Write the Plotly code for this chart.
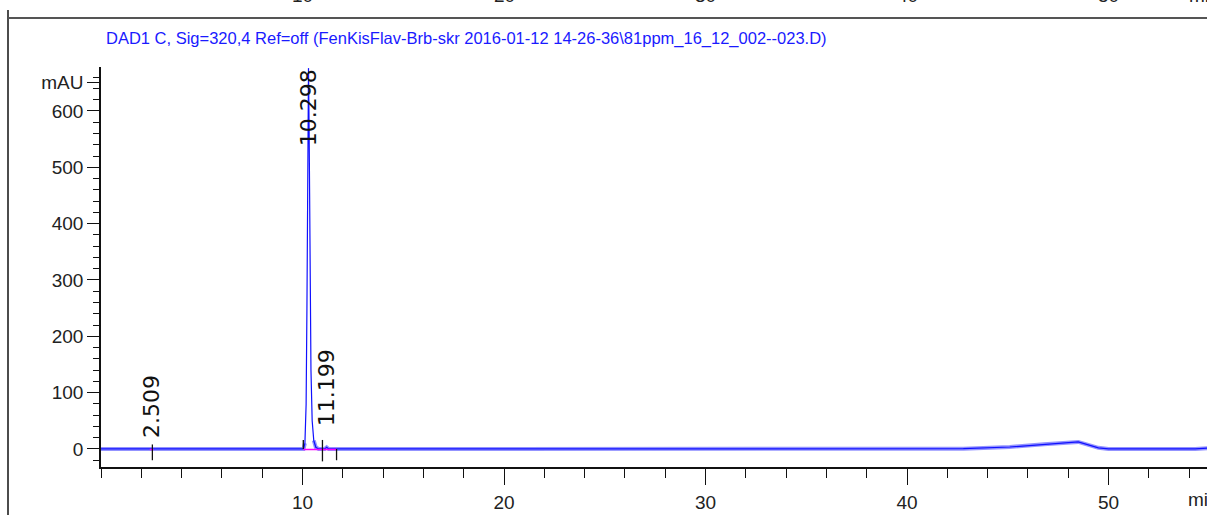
import plotly.graph_objects as go

# --- chromatogram points (time in min, signal in mAU) ---
time_min = [0.0, 2.40, 2.48, 2.53, 2.62, 10.05, 10.12, 10.18, 10.22, 10.26, 10.298,
            10.33, 10.37, 10.42, 10.48, 10.56, 10.66, 10.80, 11.10, 11.20, 11.30,
            42.8, 45.1, 46.8, 48.5, 49.5, 50.0, 54.3, 54.9]
signal_mau = [0.0, 0.0, 0.6, 0.8, 0.0, 0.0, 10, 80, 250, 500, 676,
              560, 330, 140, 50, 15, 3, 0.0, 0.0, 3.0, 0.0,
              0.5, 3.5, 8.5, 12.5, 2.0, 0.0, 0.0, 1.5]

peak_rt = [2.509, 10.298, 11.199]
peak_label_y = [16, 534, 37]

# integration baselines (start, end) and peak event marks (time, low, high)
base_segments = [(2.42, 2.60), (10.04, 11.69)]
event_marks = [(2.55, -20, 8), (10.04, 0, 16), (10.99, -22, 16), (11.69, -20, 0)]

title_text = "DAD1 C, Sig=320,4 Ref=off (FenKisFlav-Brb-skr 2016-01-12 14-26-36\\81ppm_16_12_002--023.D)"
x_ticks = [10, 20, 30, 40, 50]
y_ticks = [0, 100, 200, 300, 400, 500, 600, 650]
y_ticktext = ["0", "100", "200", "300", "400", "500", "600", "mAU"]

W, H = 1207, 515
L, R, T, B = 101, 0, 67, 48
pw, ph = W - L - R, H - T - B


def px_x(px):
    return (px - L) / pw


def px_y(py):
    return 1 + (T - py) / ph


NARROW = "Liberation Sans Narrow, Arial Narrow, Liberation Sans, Arial"

fig = go.Figure()

# light thick band only along the flat parts of the trace, thin line on top
band = [v if v < 20 else None for v in signal_mau]
fig.add_trace(go.Scatter(x=time_min, y=band, mode="lines",
                         line=dict(color="rgba(120,120,255,0.8)", width=4),
                         connectgaps=False, hoverinfo="skip", showlegend=False))
fig.add_trace(go.Scatter(x=time_min, y=signal_mau, mode="lines",
                         line=dict(color="#1010ff", width=1.2),
                         showlegend=False))

for s, e in base_segments:
    fig.add_trace(go.Scatter(x=[s, e], y=[-1.0, -1.0], mode="lines",
                             line=dict(color="#ff00ff", width=1.5),
                             hoverinfo="skip", showlegend=False))

for t, lo, hi in event_marks:
    fig.add_shape(type="line", x0=t, x1=t, y0=lo, y1=hi,
                  line=dict(color="#111", width=1.3))

for rt, ly in zip(peak_rt, peak_label_y):
    fig.add_annotation(x=rt, y=ly, text=f"{rt:.3f}", textangle=-90,
                       showarrow=False, xanchor="center", yanchor="bottom",
                       font=dict(family="DejaVu Sans", size=22, color="#111"))

# page frame (left rule and top rule)
fig.add_shape(type="line", xref="paper", yref="paper",
              x0=px_x(8), x1=px_x(8), y0=px_y(10), y1=px_y(515),
              line=dict(color="#111", width=1.5))
fig.add_shape(type="line", xref="paper", yref="paper",
              x0=px_x(8), x1=px_x(1207), y0=px_y(18), y1=px_y(18),
              line=dict(color="#555", width=2))

# cut-off labels from the chart above
for xv, txt in zip(x_ticks, ["10", "20", "30", "40", "50"]):
    fig.add_annotation(x=xv, xref="x", y=px_y(8), yref="paper", text=txt,
                       showarrow=False, xanchor="center", yanchor="bottom",
                       font=dict(family=NARROW, size=19, color="#222"))
fig.add_annotation(x=px_x(1187), xref="paper", y=px_y(8), yref="paper", text="min",
                   showarrow=False, xanchor="left", yanchor="bottom",
                   font=dict(family=NARROW, size=19, color="#222"))

fig.add_annotation(x=px_x(104), xref="paper", y=px_y(38), yref="paper",
                   text=title_text, showarrow=False, xanchor="left", yanchor="middle",
                   font=dict(family=NARROW, size=16.5, color="#1a1aff"))

fig.add_annotation(x=px_x(1186), xref="paper", y=px_y(499), yref="paper", text="min",
                   showarrow=False, xanchor="left", yanchor="middle",
                   font=dict(family=NARROW, size=19, color="#222"))

fig.update_layout(
    width=W, height=H,
    margin=dict(l=L, r=R, t=T, b=B),
    paper_bgcolor="white", plot_bgcolor="white",
    xaxis=dict(range=[0, pw / 20.15], showgrid=False, zeroline=False,
               showline=True, linecolor="#111", linewidth=1.5,
               ticks="outside", ticklen=16, tickwidth=1.3, tickcolor="#111",
               tickvals=x_ticks, ticklabelstandoff=1,
               minor=dict(dtick=2, tick0=0, ticks="outside", ticklen=9,
                          tickwidth=1.2, tickcolor="#111"),
               tickfont=dict(family=NARROW, size=19, color="#222")),
    yaxis=dict(range=[-32, 678], showgrid=False, zeroline=False,
               showline=True, linecolor="#111", linewidth=1.5,
               ticks="outside", ticklen=12, tickwidth=1.3, tickcolor="#111",
               tickvals=y_ticks, ticktext=y_ticktext,
               minor=dict(dtick=20, tick0=0, ticks="outside", ticklen=6,
                          tickwidth=1.1, tickcolor="#111"),
               tickfont=dict(family=NARROW, size=19, color="#222")),
)

# drop the browser's default 8px body margin so the figure fills the window
fig.write_html("out.html", config={"displayModeBar": False},
               post_script="document.body.style.margin='0';document.body.style.overflow='hidden';")
